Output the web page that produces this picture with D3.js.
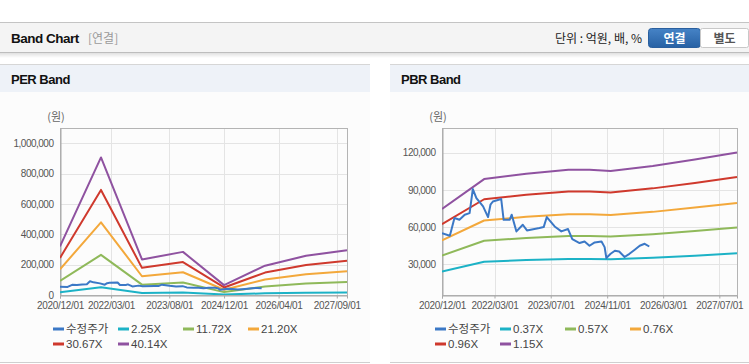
<!DOCTYPE html>
<html>
<head>
<meta charset="utf-8">
<script src="https://cdn.jsdelivr.net/npm/d3@7"></script>
<style>
  body { margin: 0; background: #fff; }
  svg { display: block; font-family: 'Liberation Sans', Arial, sans-serif; }
  .kr { font-family: 'Noto Sans CJK KR', sans-serif; }
</style>
</head>
<body>
<script>
// adjusted stock price (shared by both charts)
const priceDates = ['2020-12-01','2021-02-07','2021-03-19','2021-05-01','2021-06-16','2021-07-28','2021-08-25',
  '2021-09-25','2021-11-22','2022-01-04','2022-01-25','2022-02-15','2022-04-28','2022-05-19','2022-07-10',
  '2022-07-28','2022-09-07','2022-11-01','2022-12-07','2023-03-25','2023-05-01','2023-05-28','2023-08-04',
  '2023-10-01','2023-11-28','2024-01-04','2024-03-07','2024-04-19','2024-06-01','2024-07-16','2024-09-13',
  '2024-10-10','2024-10-25','2024-12-01','2025-01-07','2025-02-13','2025-04-01','2025-05-13','2025-06-28',
  '2025-08-10','2025-09-22','2025-11-01'];
const priceValues = [54900, 52900, 67200, 65800, 69900, 71200, 90600,
  83400, 76600, 68000, 78000, 80600, 82600, 65800, 65800,
  69900, 56400, 61800, 57200, 59100, 59900, 68000, 60400,
  56400, 58300, 50200, 47000, 48300, 44800, 47500, 48300,
  43700, 34900, 38300, 40800, 40200, 35700, 38300, 41600,
  44800, 46400, 44200];

// PER band
const perDates = ['2020-12-01','2021-12-01','2022-12-01','2023-12-01','2024-12-01','2025-12-01','2026-12-01','2027-12-01'];
const per225  = [17900, 50800, 13100, 15900, 3600, 10800, 14500, 16500];
const per1172 = [93400, 264500, 68300, 82900, 19000, 56400, 75300, 86100];
const per2120 = [169000, 478500, 123600, 150000, 34300, 101900, 136300, 155800];
const per3067 = [244500, 692200, 178800, 217000, 49700, 147500, 197100, 225400];
const per4014 = [320000, 906000, 234000, 284000, 65000, 193000, 258000, 295000];
const perLabels = ['수정주가', '2.25X', '11.72X', '21.20X', '30.67X', '40.14X'];
const perYTicks = [0, 200000, 400000, 600000, 800000, 1000000];
const perXTicks = ['2020-12-01','2022-03-01','2023-08-01','2024-12-01','2026-04-01','2027-09-01'];

// PBR band
const pbrDates = ['2020-12-01','2021-12-01','2022-12-01','2023-12-01','2024-06-01','2024-12-01','2025-12-01','2026-12-01','2027-12-01'];
const pbr037 = [24000, 31800, 33200, 34200, 34200, 33900, 35200, 36800, 38700];
const pbr057 = [36900, 48900, 51100, 52700, 52700, 52200, 54200, 56800, 59600];
const pbr076 = [49200, 65200, 68200, 70200, 70200, 69600, 72200, 75700, 79400];
const pbr096 = [62200, 82400, 86100, 88700, 88700, 87900, 91200, 95600, 100300];
const pbr115 = [74500, 98700, 103100, 106300, 106300, 105300, 109300, 114500, 120200];
const pbrLabels = ['수정주가', '0.37X', '0.57X', '0.76X', '0.96X', '1.15X'];
const pbrYTicks = [30000, 60000, 90000, 120000];
const pbrXTicks = ['2020-12-01','2022-03-01','2023-07-01','2024-11-01','2026-03-01','2027-07-01'];

const colors = ['#3b78c6', '#1cb2c6', '#8fb95a', '#f3a83b', '#cf392d', '#8f52a0'];
const parse = d3.timeParse('%Y-%m-%d');
const fmtDate = d3.timeFormat('%Y/%m/%d');

const svg = d3.select('body').append('svg')
  .attr('width', 749)
  .attr('height', 364);

// top header bar
const defs = svg.append('defs');
const shadow = defs.append('linearGradient').attr('id', 'shadow').attr('x1', 0).attr('x2', 0).attr('y1', 0).attr('y2', 1);
shadow.append('stop').attr('offset', 0).attr('stop-color', '#000').attr('stop-opacity', 0.12);
shadow.append('stop').attr('offset', 1).attr('stop-color', '#000').attr('stop-opacity', 0);
const btn = defs.append('linearGradient').attr('id', 'btn').attr('x1', 0).attr('x2', 0).attr('y1', 0).attr('y2', 1);
btn.append('stop').attr('offset', 0).attr('stop-color', '#4683c6');
btn.append('stop').attr('offset', 1).attr('stop-color', '#2761a4');

svg.append('rect').attr('x', 0).attr('y', 22).attr('width', 749).attr('height', 30).attr('fill', '#f4f4f4');
svg.append('line').attr('x1', 0).attr('x2', 749).attr('y1', 22.5).attr('y2', 22.5).attr('stroke', '#c4c4c4');
svg.append('line').attr('x1', 0).attr('x2', 749).attr('y1', 52.5).attr('y2', 52.5).attr('stroke', '#bdbdbd');
svg.append('rect').attr('x', 0).attr('y', 53).attr('width', 749).attr('height', 5).attr('fill', 'url(#shadow)');

svg.append('text')
  .attr('x', 11).attr('y', 43)
  .style('font-size', '13.5px').style('font-weight', 'bold').style('letter-spacing', '-0.5px')
  .attr('fill', '#111')
  .text('Band Chart');
svg.append('text').attr('class', 'kr')
  .attr('x', 88).attr('y', 43)
  .style('font-size', '12px').attr('fill', '#9a9a9a')
  .text('[연결]');
svg.append('text').attr('class', 'kr')
  .attr('x', 642).attr('y', 43)
  .attr('text-anchor', 'end')
  .style('font-size', '12px').attr('fill', '#222')
  .text('단위 : 억원, 배, %');

svg.append('rect').attr('x', 648.5).attr('y', 28.5).attr('width', 52).attr('height', 19).attr('rx', 3)
  .attr('fill', 'url(#btn)').attr('stroke', '#2a5f9e');
svg.append('text').attr('class', 'kr')
  .attr('x', 674.5).attr('y', 42.5).attr('text-anchor', 'middle')
  .style('font-size', '12px').style('font-weight', 'bold').attr('fill', '#fff')
  .text('연결');
svg.append('rect').attr('x', 700.5).attr('y', 28.5).attr('width', 48).attr('height', 19).attr('rx', 2)
  .attr('fill', '#fff').attr('stroke', '#c8c8c8');
svg.append('text').attr('class', 'kr')
  .attr('x', 724.5).attr('y', 42.5).attr('text-anchor', 'middle')
  .style('font-size', '12px').style('font-weight', 'bold').attr('fill', '#555')
  .text('별도');

function drawPanel(cfg) {
  const g = svg.append('g');

  // panel frame
  g.append('rect').attr('x', cfg.x0).attr('y', 65).attr('width', cfg.x1 - cfg.x0).attr('height', 27).attr('fill', '#eef2f8');
  g.append('rect').attr('x', cfg.x0).attr('y', 92).attr('width', cfg.x1 - cfg.x0).attr('height', 270).attr('fill', '#fcfcfc');
  g.append('line').attr('x1', cfg.x0).attr('x2', cfg.x1).attr('y1', 64.5).attr('y2', 64.5).attr('stroke', '#d6d6d6');
  g.append('line').attr('x1', cfg.x0).attr('x2', cfg.x1).attr('y1', 362.5).attr('y2', 362.5).attr('stroke', '#cfcfcf');
  g.append('text')
    .attr('x', cfg.x0 + 11).attr('y', 84)
    .style('font-size', '13px').style('font-weight', 'bold').style('letter-spacing', '-0.5px')
    .attr('fill', '#111')
    .text(cfg.title);

  // scales
  const xScale = d3.scaleTime()
    .domain([parse('2020-12-01'), parse('2027-12-01')])
    .range([cfg.left, cfg.right]);
  const yScale = d3.scaleLinear()
    .domain(cfg.yDomain)
    .range([cfg.bottom, cfg.top]);

  // grid
  const xTicks = cfg.xTicks.map(parse);
  g.append('g').selectAll('line')
    .data(xTicks)
    .join('line')
    .attr('x1', d => Math.round(xScale(d)) + 0.5).attr('x2', d => Math.round(xScale(d)) + 0.5)
    .attr('y1', cfg.top).attr('y2', cfg.bottom)
    .attr('stroke', '#e4e4e4');
  g.append('g').selectAll('line')
    .data(cfg.yTicks)
    .join('line')
    .attr('x1', cfg.left).attr('x2', cfg.right)
    .attr('y1', d => Math.round(yScale(d)) + 0.5).attr('y2', d => Math.round(yScale(d)) + 0.5)
    .attr('stroke', '#e4e4e4');

  // plot border
  g.append('rect')
    .attr('x', cfg.left + 0.5).attr('y', cfg.top + 0.5)
    .attr('width', cfg.right - cfg.left).attr('height', cfg.bottom - cfg.top)
    .attr('fill', 'none').attr('stroke', '#b4b4b4');

  // axes
  const xAxis = d3.axisBottom(xScale).tickValues(xTicks).tickFormat(fmtDate).tickSize(3).tickPadding(3);
  const xg = g.append('g')
    .attr('transform', `translate(0, ${cfg.bottom + 0.5})`)
    .call(xAxis);
  xg.select('.domain').attr('stroke', '#a8a8a8');
  xg.selectAll('line').attr('stroke', '#a8a8a8');
  xg.selectAll('text')
    .style('font-size', '10px').style('letter-spacing', '-0.3px')
    .attr('fill', '#555');

  const yAxis = d3.axisLeft(yScale).tickValues(cfg.yTicks).tickFormat(d3.format(',')).tickSize(0).tickPadding(7);
  const yg = g.append('g')
    .attr('transform', `translate(${cfg.left + 0.5}, 0)`)
    .call(yAxis);
  yg.select('.domain').attr('stroke', '#a8a8a8');
  yg.selectAll('text')
    .style('font-size', '10px').style('letter-spacing', '-0.5px')
    .attr('fill', '#555');

  g.append('text').attr('class', 'kr')
    .attr('x', cfg.left - 4).attr('y', 121)
    .attr('text-anchor', 'middle')
    .style('font-size', '11px').attr('fill', '#666')
    .text('(원)');

  // lines
  const line = d3.line()
    .x(d => xScale(d[0]))
    .y(d => yScale(d[1]));

  const clipId = 'clip-' + cfg.title.replace(' ', '');
  defs.append('clipPath').attr('id', clipId)
    .append('rect').attr('x', cfg.left).attr('y', cfg.top).attr('width', cfg.right - cfg.left + 1).attr('height', cfg.bottom - cfg.top);

  const seriesData = cfg.series.map((s, i) => ({
    color: colors[i + 1],
    points: s.map((v, j) => [parse(cfg.dates[j]), v])
  }));
  seriesData.unshift({
    color: colors[0],
    points: priceValues.map((v, j) => [parse(priceDates[j]), v])
  });

  // draw bands first, price last on top
  const ordered = seriesData.slice(1).concat([seriesData[0]]);
  g.append('g')
    .attr('clip-path', `url(#${clipId})`)
    .selectAll('path')
    .data(ordered)
    .join('path')
    .attr('d', d => line(d.points))
    .attr('fill', 'none')
    .attr('stroke', d => d.color)
    .attr('stroke-width', 2)
    .attr('stroke-linejoin', 'round');

  // legend
  const legend = g.append('g');
  cfg.labels.forEach((label, i) => {
    const lx = cfg.left - 7 + (i % 4) * 65;
    const ly = 329 + Math.floor(i / 4) * 15;
    legend.append('line')
      .attr('x1', lx).attr('x2', lx + 11)
      .attr('y1', ly).attr('y2', ly)
      .attr('stroke', colors[i]).attr('stroke-width', 3);
    legend.append('text')
      .attr('class', i === 0 ? 'kr' : null)
      .attr('x', lx + 13).attr('y', ly + 4)
      .style('font-size', '11.5px').attr('fill', '#444')
      .text(label);
  });
}

drawPanel({
  x0: 0, x1: 370, title: 'PER Band',
  left: 60, right: 347, top: 128, bottom: 295,
  yDomain: [0, 1100000], yTicks: perYTicks, xTicks: perXTicks,
  dates: perDates,
  series: [per225, per1172, per2120, per3067, per4014],
  labels: perLabels
});

drawPanel({
  x0: 390, x1: 749, title: 'PBR Band',
  left: 442, right: 737, top: 128, bottom: 295,
  yDomain: [5000, 140000], yTicks: pbrYTicks, xTicks: pbrXTicks,
  dates: pbrDates,
  series: [pbr037, pbr057, pbr076, pbr096, pbr115],
  labels: pbrLabels
});
</script>
</body>
</html>
